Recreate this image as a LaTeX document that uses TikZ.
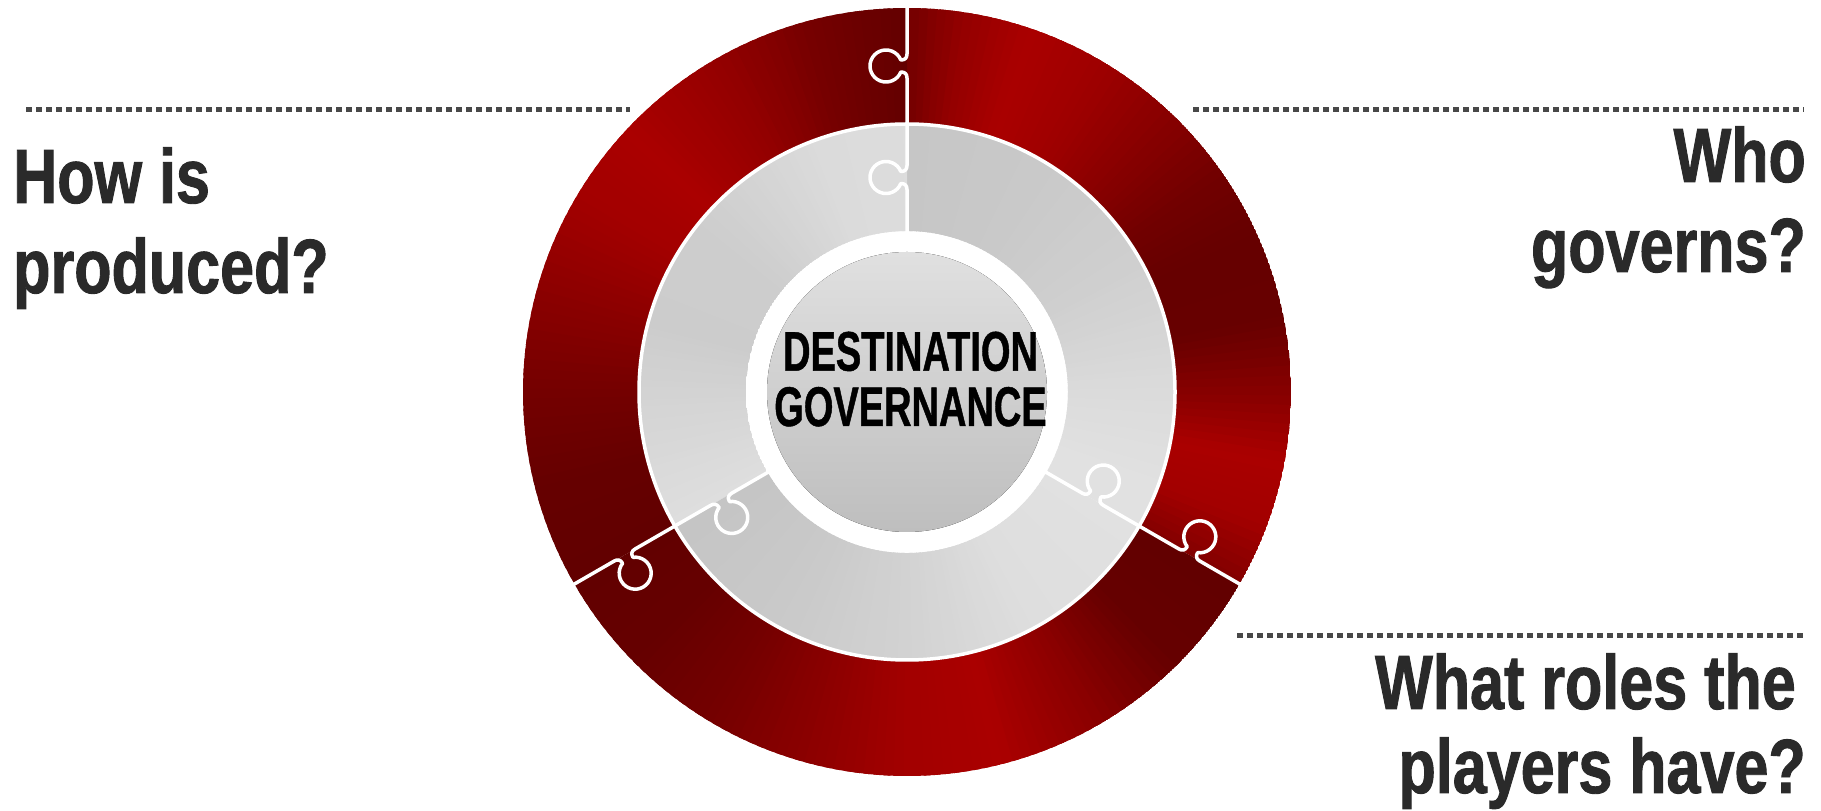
\documentclass[tikz,border=0pt]{standalone}
\usepackage{fontspec}
\usetikzlibrary{shadings}
\newfontfamily\sidefont{Liberation Sans}[FakeStretch=0.795, FakeBold=1.2]
\newfontfamily\hubfont{Liberation Sans}[FakeStretch=0.68, FakeBold=0.8]
\definecolor{ringbright}{RGB}{170,0,0}
\definecolor{ringdark}{RGB}{94,0,0}
\definecolor{panellight}{RGB}{225,225,225}
\definecolor{paneldark}{RGB}{195,195,195}
\definecolor{hubtop}{RGB}{224,224,224}
\definecolor{hubbottom}{RGB}{190,190,190}
\definecolor{dotgray}{RGB}{72,72,72}
\definecolor{labelgray}{RGB}{42,42,42}

% annular sector between radii #1 and #2, from angle #3 to #4
\newcommand\sectorpath[4]{(#3:#1) -- (#3:#2) arc[start angle=#3, end angle=#4, radius=#2] -- (#4:#1) arc[start angle=#4, end angle=#3, radius=#1] -- cycle}

% angular colour sweep: radii #1,#2, colours #3 (value 1) and #4 (value 0),
% list of intervals a1/a2/v1/v2
\newcommand\sweepband[5]{%
  \foreach \aa/\ab/\va/\vb in {#5}{%
    \pgfmathtruncatemacro\nsteps{max(1,ceil(abs(\ab-\aa)/1.5))}%
    \foreach \k in {1,...,\nsteps}{%
      \pgfmathsetmacro\angA{\aa+(\ab-\aa)*(\k-1)/\nsteps-0.5}%
      \pgfmathsetmacro\angB{\aa+(\ab-\aa)*\k/\nsteps+0.5}%
      \pgfmathsetmacro\pct{100*(\va+(\vb-\va)*(\k-0.5)/\nsteps)}%
      \fill[#3!\pct!#4] \sectorpath{#1}{#2}{\angA}{\angB};
    }%
  }%
}

% one puzzle piece segment: clip to its sector and sweep the colours
\newcommand\piece[7]{%
  \begin{scope}
    \clip \sectorpath{#1}{#2}{#3}{#4};
    \sweepband{#1}{#2}{#5}{#6}{#7}
  \end{scope}%
}

% seam with a knob at distance #1 from the centre (knob towards local -x)
\newcommand\knob[1]{-- (0,{#1-12}) .. controls (0,{#1-8}) and (-2,{#1-6}) .. (-6.17,{#1-6})
  arc[start angle=-22, end angle=-338, radius=16]
  .. controls (-2,{#1+6}) and (0,{#1+8}) .. (0,{#1+12})}

\tikzset{
  seam/.style={white, line width=3.5, line join=round},
  dotrule/.style={dotgray, line width=5, dash pattern=on 5.5 off 4.5},
  side label/.style={font={\sidefont\bfseries\fontsize{76.8}{88}\selectfont}, text=labelgray, inner sep=0pt},
  hub label/.style={font={\hubfont\bfseries\fontsize{55.9}{56}\selectfont}, text=black, inner sep=0pt},
}

\begin{document}
\begin{tikzpicture}[x=1pt, y=1pt]
  \useasboundingbox (0,0) rectangle (1821,811);
  \fill[white] (0,0) rectangle (1821,811);

  % dotted rules
  \coordinate (ruleLa) at (26,701);
  \coordinate (ruleLb) at (630,701);
  \coordinate (ruleRa) at (1193,701);
  \coordinate (ruleRb) at (1804,701);
  \coordinate (ruleBa) at (1237,175);
  \coordinate (ruleBb) at (1804,175);
  \draw[dotrule] (ruleLa) -- (ruleLb);
  \draw[dotrule] (ruleRa) -- (ruleRb);
  \draw[dotrule] (ruleBa) -- (ruleBb);

  \begin{scope}[shift={(907,419)}]
    % outer red ring
    \piece{268}{384}{-30}{90}{ringbright}{ringdark}{-30/-20/0.45/0.9, -20/-10/0.9/1.0, -10/0/1.0/0.55, 0/12/0.55/0.12, 12/25/0.12/0.1, 25/35/0.1/0.25, 35/45/0.25/0.5, 45/60/0.5/0.85, 60/72/0.85/1.0, 72/82/1.0/0.7, 82/90/0.7/0.3}
    \piece{268}{384}{90}{210}{ringbright}{ringdark}{90/105/0.05/0.3, 105/120/0.3/0.7, 120/137/0.7/1.0, 137/150/1.0/0.9, 150/165/0.9/0.6, 165/180/0.6/0.3, 180/195/0.3/0.1, 195/210/0.1/0.05}
    \piece{268}{384}{210}{330}{ringbright}{ringdark}{210/225/0.05/0.1, 225/240/0.1/0.3, 240/255/0.3/0.6, 255/270/0.6/0.9, 270/285/0.9/1.0, 285/300/1.0/0.6, 300/315/0.6/0.1, 315/330/0.1/0.05}
    % grey ring
    \piece{161}{268}{-30}{90}{panellight}{paneldark}{-30/-20/1.0/1.0, -20/0/1.0/0.8, 0/30/0.8/0.4, 30/60/0.4/0.2, 60/90/0.2/0.1}
    \piece{161}{268}{90}{210}{panellight}{paneldark}{90/110/0.85/0.8, 110/140/0.8/0.35, 140/165/0.35/0.3, 165/185/0.3/0.6, 185/210/0.6/0.9}
    \piece{161}{268}{210}{330}{panellight}{paneldark}{210/240/0.05/0.2, 240/270/0.2/0.5, 270/300/0.5/0.9, 300/330/0.9/1.0}
    % rim between the rings
    \draw[white, line width=3.5] (0,0) circle[radius=268];
    % puzzle seams
    \foreach \ang in {90,210,330}{
      \begin{scope}[rotate=\ang-90]
        \draw[seam] (0,150) \knob{214.5} \knob{326} -- (0,392);
      \end{scope}
    }
    % centre disc
    \fill[top color=hubtop, bottom color=hubbottom] (0,0) circle[radius=140];
  \end{scope}

  % centre title
  \node[hub label, anchor=base] (hubA) at (910.5,440.3) {DESTINATION};
  \node[hub label, anchor=base] (hubB) at (910.5,385) {GOVERNANCE};

  % questions
  \node[side label, anchor=base west] (howA) at (13,608) {How is};
  \node[side label, anchor=base west] (howB) at (13,518) {produced?};
  \node[side label, anchor=base east] (whoA) at (1806,629) {Who};
  \node[side label, anchor=base east] (whoB) at (1806,539) {governs?};
  \node[side label, anchor=base east] (roleA) at (1796,102) {What roles the};
  \node[side label, anchor=base east] (roleB) at (1806,18) {players have?};
\end{tikzpicture}
\end{document}
